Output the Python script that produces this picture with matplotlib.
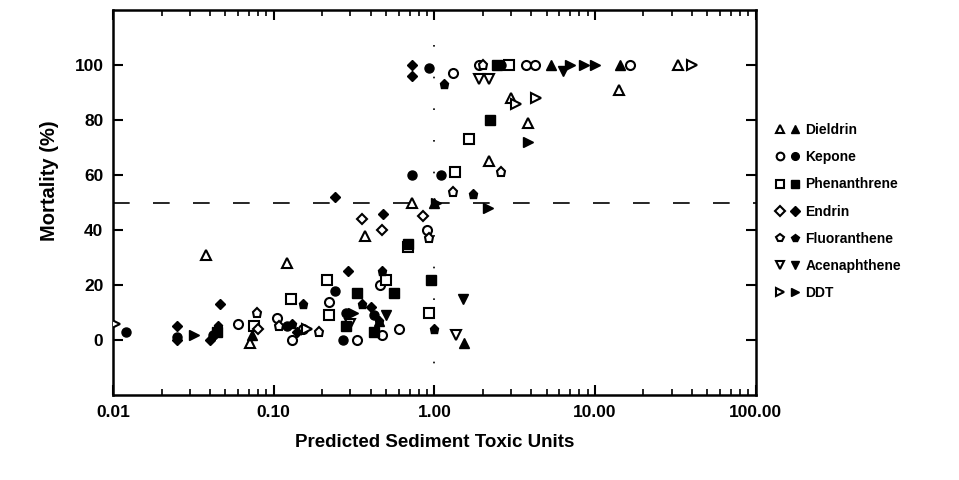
import matplotlib

matplotlib.use("Agg")

import matplotlib.pyplot as plt
from matplotlib.legend_handler import HandlerTuple
from matplotlib.ticker import FixedLocator, LogLocator, NullFormatter

plt.rcParams["font.family"] = ["Liberation Sans", "DejaVu Sans"]
plt.rcParams["font.weight"] = "bold"

# predicted sediment toxic units (x) and mortality % (y), open / filled symbols
dieldrin_open_x = [0.038, 0.12, 0.37, 0.73, 2.2, 3.0, 3.8, 14, 33, 0.071]
dieldrin_open_y = [31, 28, 38, 50, 65, 88, 79, 91, 100, -1]
dieldrin_fill_x = [0.073, 0.45, 1.0, 1.53, 5.3, 14.4]
dieldrin_fill_y = [2, 7, 50, -1, 100, 100]

kepone_open_x = [0.060, 0.104, 0.13, 0.153, 0.22, 0.33, 0.46, 0.47, 0.60, 0.90, 1.3, 1.9, 3.7, 4.2, 16.6]
kepone_open_y = [6, 8, 0, 4, 14, 0, 20, 2, 4, 40, 97, 100, 100, 100, 100]
kepone_fill_x = [0.012, 0.025, 0.042, 0.12, 0.24, 0.27, 0.28, 0.42, 0.73, 0.93, 1.1, 2.6]
kepone_fill_y = [3, 1, 2, 5, 18, 0, 10, 9, 60, 99, 60, 100]

phen_open_x = [0.075, 0.128, 0.214, 0.22, 0.50, 0.68, 0.92, 1.35, 1.64, 2.9]
phen_open_y = [5, 15, 22, 9, 22, 34, 10, 61, 73, 100]
phen_fill_x = [0.044, 0.28, 0.33, 0.42, 0.56, 0.68, 0.95, 2.23, 2.45]
phen_fill_y = [3, 5, 17, 3, 17, 35, 22, 80, 100]

endrin_open_x = [0.08, 0.355, 0.47, 0.85]
endrin_open_y = [4, 44, 40, 45]
endrin_fill_x = [0.025, 0.025, 0.040, 0.046, 0.14, 0.24, 0.29, 0.40, 0.48, 0.73, 0.73]
endrin_fill_y = [5, 0, 0, 13, 3, 52, 25, 12, 46, 100, 96]

fluor_open_x = [0.079, 0.108, 0.19, 0.92, 1.3, 2.0, 2.6]
fluor_open_y = [10, 5, 3, 37, 54, 100, 61]
fluor_fill_x = [0.045, 0.13, 0.152, 0.355, 0.45, 0.47, 1.0, 1.14, 1.75]
fluor_fill_y = [5, 6, 13, 13, 7, 25, 4, 93, 53]

acen_open_x = [0.30, 1.37, 1.9, 2.2]
acen_open_y = [6, 2, 95, 95]
acen_fill_x = [0.50, 1.5, 6.3]
acen_fill_y = [9, 15, 98]

ddt_open_x = [0.0103, 0.16, 3.2, 4.3, 40]
ddt_open_y = [6, 4, 86, 88, 100]
ddt_fill_x = [0.032, 0.31, 1.02, 2.15, 3.8, 7.0, 8.5, 10.0]
ddt_fill_y = [2, 10, 50, 48, 72, 100, 100, 100]

x_ticks = [0.01, 0.1, 1, 10, 100]
x_tick_labels = ["0.01", "0.10", "1.00", "10.00", "100.00"]
y_ticks = [0, 20, 40, 60, 80, 100]

series = [
    ("Dieldrin", "^", dieldrin_open_x, dieldrin_open_y, dieldrin_fill_x, dieldrin_fill_y),
    ("Kepone", "o", kepone_open_x, kepone_open_y, kepone_fill_x, kepone_fill_y),
    ("Phenanthrene", "s", phen_open_x, phen_open_y, phen_fill_x, phen_fill_y),
    ("Endrin", "D", endrin_open_x, endrin_open_y, endrin_fill_x, endrin_fill_y),
    ("Fluoranthene", "p", fluor_open_x, fluor_open_y, fluor_fill_x, fluor_fill_y),
    ("Acenaphthene", "v", acen_open_x, acen_open_y, acen_fill_x, acen_fill_y),
    ("DDT", ">", ddt_open_x, ddt_open_y, ddt_fill_x, ddt_fill_y),
]

fig = plt.figure(figsize=(9.59, 4.8), dpi=100)
ax = fig.add_axes([0.118, 0.177, 0.67, 0.802])

ax.axhline(50, color="black", lw=1.2, dashes=(10, 14), zorder=1)
ax.axvline(1.0, color="black", lw=1.2, dashes=(1, 18), zorder=1)

handles = []
labels = []
for name, marker, ox, oy, fx, fy in series:
    size = 5.5 if marker == "D" else 6.5
    h_open, = ax.plot(ox, oy, linestyle="none", marker=marker, markersize=size,
                      markerfacecolor="white", markeredgecolor="black",
                      markeredgewidth=1.5, zorder=3)
    h_fill, = ax.plot(fx, fy, linestyle="none", marker=marker, markersize=size,
                      markerfacecolor="black", markeredgecolor="black",
                      markeredgewidth=1.0, zorder=4)
    handles.append((h_open, h_fill))
    labels.append(name)

ax.set_xscale("log")
ax.set_xlim(0.01, 100)
ax.set_ylim(-20, 120)

ax.xaxis.set_major_locator(FixedLocator(x_ticks))
ax.set_xticklabels(x_tick_labels)
ax.xaxis.set_minor_locator(LogLocator(base=10, subs=range(2, 10)))
ax.xaxis.set_minor_formatter(NullFormatter())
ax.set_yticks(y_ticks)

ax.tick_params(axis="both", which="major", direction="in", length=7, width=1.5,
               top=True, right=True, labelsize=12.5, pad=7)
ax.tick_params(axis="x", which="minor", direction="in", length=4, width=1.2,
               top=True, bottom=True)
for spine in ax.spines.values():
    spine.set_linewidth(1.8)

ax.set_xlabel("Predicted Sediment Toxic Units", fontsize=13.5, fontweight="bold", labelpad=10)
ax.set_ylabel("Mortality (%)", fontsize=14.5, fontweight="bold")
ax.yaxis.set_label_coords(-0.084, 0.558)

fig.legend(handles, labels, handler_map={tuple: HandlerTuple(ndivide=None, pad=0.6)},
           loc="upper left", bbox_to_anchor=(0.802, 0.758), frameon=False,
           fontsize=10, handlelength=1.6, handletextpad=0.5, labelspacing=0.95,
           markerscale=0.85, borderpad=0)

fig.savefig("out.png", dpi=100)
